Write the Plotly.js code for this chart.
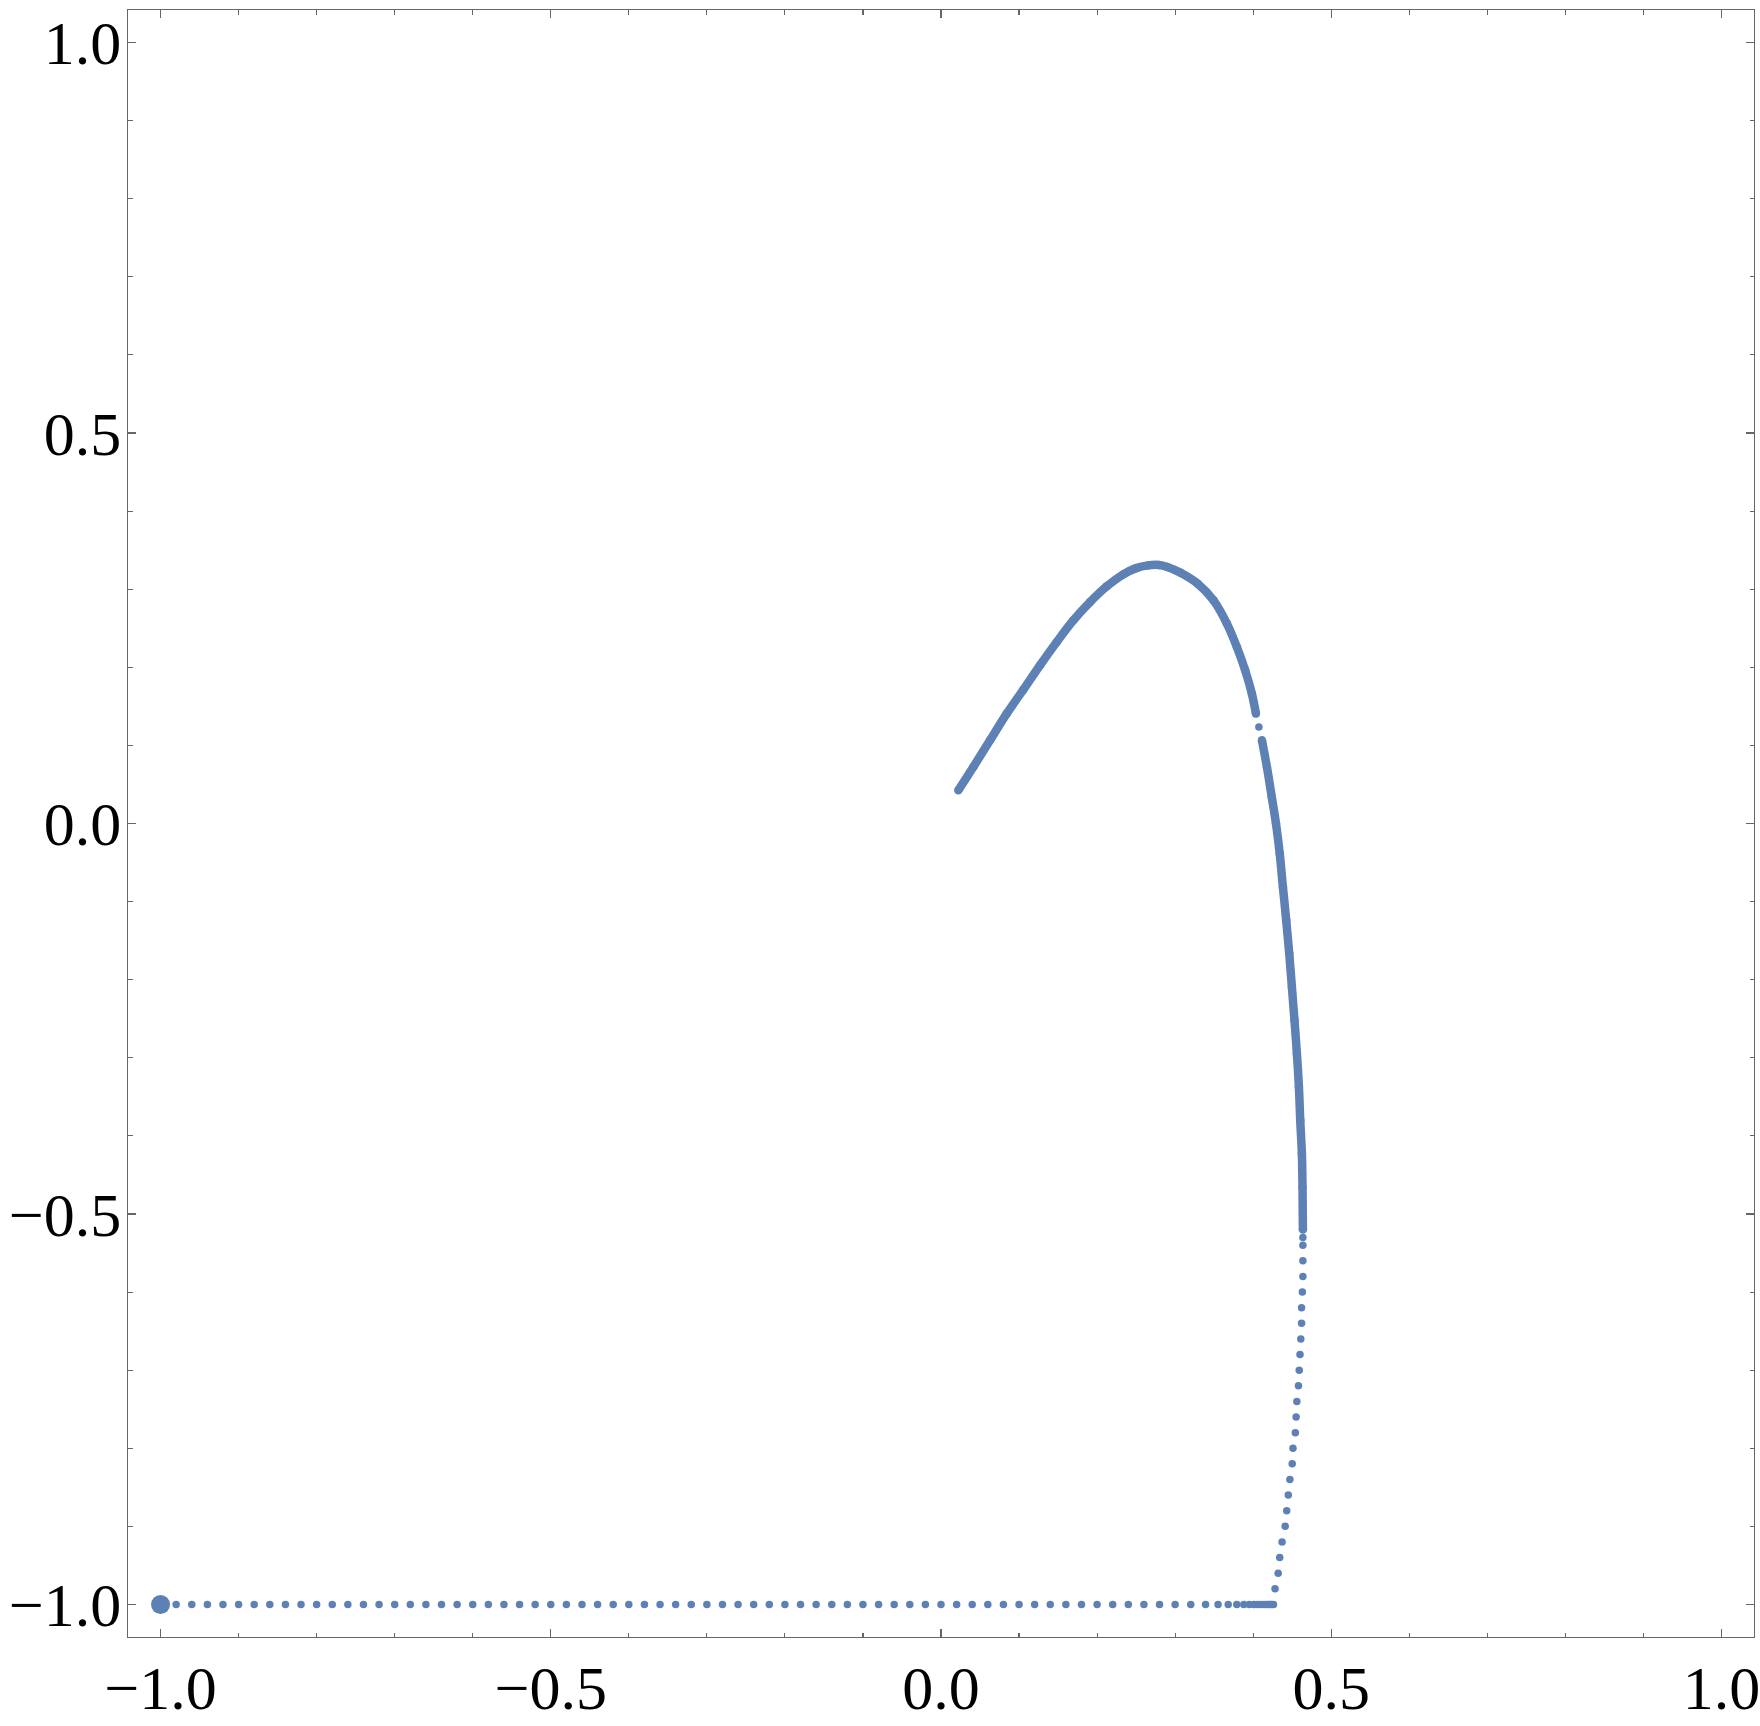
<!DOCTYPE html>
<html>
<head>
<meta charset="utf-8">
<script src="https://cdn.plot.ly/plotly-3.0.1.min.js"></script>
<style>html,body{margin:0;padding:0;background:#fff;}#chart{width:1760px;height:1726px;}</style>
</head>
<body>
<div id="chart"></div>
<script>
// Start point
const startX = [-1.0];
const startY = [-1.0];

// Separate dots along the bottom (y = -1)
const bottomX = [-0.98,-0.96,-0.94,-0.92,-0.90,-0.88,-0.86,-0.84,-0.82,-0.80,
  -0.78,-0.76,-0.74,-0.72,-0.70,-0.68,-0.66,-0.64,-0.62,-0.60,
  -0.58,-0.56,-0.54,-0.52,-0.50,-0.48,-0.46,-0.44,-0.42,-0.40,
  -0.38,-0.36,-0.34,-0.32,-0.30,-0.28,-0.26,-0.24,-0.22,-0.20,
  -0.18,-0.16,-0.14,-0.12,-0.10,-0.08,-0.06,-0.04,-0.02,0.00,
  0.02,0.04,0.06,0.08,0.10,0.12,0.14,0.16,0.18,0.20,
  0.22,0.24,0.26,0.28,0.30,0.32,
  0.339,0.355,0.368,0.379,0.388,0.395,0.401,0.406,0.410,0.414,0.417,0.420,0.422,0.424,0.426];
const bottomY = [-1,-1,-1,-1,-1,-1,-1,-1,-1,-1,
  -1,-1,-1,-1,-1,-1,-1,-1,-1,-1,
  -1,-1,-1,-1,-1,-1,-1,-1,-1,-1,
  -1,-1,-1,-1,-1,-1,-1,-1,-1,-1,
  -1,-1,-1,-1,-1,-1,-1,-1,-1,-1,
  -1,-1,-1,-1,-1,-1,-1,-1,-1,-1,
  -1,-1,-1,-1,-1,-1,
  -1,-1,-1,-1,-1,-1,-1,-1,-1,-1,-1,-1,-1,-1,-1];

// Separate dots rising on the right
const riseX = [0.428,0.432,0.434,0.437,0.441,0.443,0.445,0.447,0.450,0.451,
  0.454,0.455,0.456,0.458,0.459,0.460,0.461,0.462,0.462,0.463,
  0.4637,0.4637,0.4637,0.4637];
const riseY = [-0.98,-0.96,-0.94,-0.92,-0.90,-0.88,-0.86,-0.84,-0.82,-0.80,
  -0.78,-0.76,-0.74,-0.72,-0.70,-0.68,-0.66,-0.64,-0.62,-0.60,
  -0.58,-0.56,-0.54,-0.53];

// Dense run (points overlap into a solid band), lower part
const denseAX = [0.4637,0.4632,0.4624,0.4603,0.4586,0.4560,0.4529,0.4496,0.4462,0.4423,0.4381,0.4340,0.4292,0.4238,0.4176,0.4112];
const denseAY = [-0.520,-0.4654,-0.4227,-0.3800,-0.3374,-0.2946,-0.2520,-0.2093,-0.1666,-0.1239,-0.0813,-0.0385,0.0000,0.0339,0.0723,0.1066];

// Lone dot in the gap
const gapX = [0.4073];
const gapY = [0.1236];

// Dense run, upper arc
const denseBX = [0.4035,0.3983,0.3897,0.3791,0.3663,0.3491,0.3290,0.3070,0.2900,0.2790,0.2650,0.2500,0.2337,0.2124,0.1910,0.1696,0.1483,0.1269,0.1055,0.0842,0.0628,0.0414,0.0222];
const denseBY = [0.1407,0.1663,0.1962,0.2260,0.2560,0.2858,0.3070,0.3210,0.3285,0.3310,0.3305,0.3270,0.3191,0.3037,0.2836,0.2602,0.2324,0.2026,0.1714,0.1407,0.1065,0.0723,0.0425];

const col = 'rgb(94,129,181)';
const dotSize = 7.5;
const bandW = 8.5;

const traces = [
  {x: bottomX, y: bottomY, mode: 'markers', type: 'scatter', marker: {color: col, size: dotSize}},
  {x: riseX, y: riseY, mode: 'markers', type: 'scatter', marker: {color: col, size: dotSize}},
  {x: denseAX, y: denseAY, mode: 'lines+markers', type: 'scatter', line: {color: col, width: bandW, shape: 'spline', smoothing: 1}, marker: {color: col, size: bandW}},
  {x: gapX, y: gapY, mode: 'markers', type: 'scatter', marker: {color: col, size: dotSize}},
  {x: denseBX, y: denseBY, mode: 'lines+markers', type: 'scatter', line: {color: col, width: bandW, shape: 'spline', smoothing: 1}, marker: {color: col, size: bandW}},
  {x: startX, y: startY, mode: 'markers', type: 'scatter', marker: {color: col, size: 19}}
];

const axisCommon = {
  range: [-1.0417, 1.0417],
  showgrid: false,
  zeroline: false,
  showline: true,
  linecolor: '#666666',
  linewidth: 1.3,
  mirror: 'allticks',
  ticks: 'inside',
  ticklen: 8,
  tickwidth: 1.3,
  tickcolor: '#666666',
  tick0: 0,
  dtick: 0.5,
  tickformat: '.1f',
  ticklabeloverflow: 'allow',
  tickfont: {family: 'Liberation Serif, Times New Roman, serif', size: 62, color: '#000'},
  minor: {dtick: 0.1, ticks: 'inside', ticklen: 4.5, tickwidth: 1.1, tickcolor: '#666666', showgrid: false},
  fixedrange: true
};

const layout = {
  width: 1760,
  height: 1726,
  margin: {l: 128, r: 6, t: 10, b: 89, pad: 0},
  paper_bgcolor: '#ffffff',
  plot_bgcolor: '#ffffff',
  showlegend: false,
  xaxis: Object.assign({}, axisCommon, {ticklabelstandoff: -4}),
  yaxis: Object.assign({}, axisCommon, {ticklabelstandoff: -7})
};

Plotly.newPlot('chart', traces, layout, {displayModeBar: false, staticPlot: true});
</script>
</body>
</html>
